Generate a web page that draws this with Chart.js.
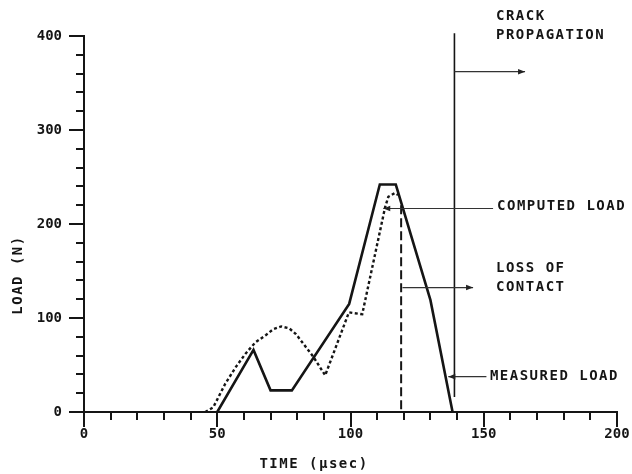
<!DOCTYPE html>
<html>
<head>
<meta charset="utf-8">
<script src="https://cdn.jsdelivr.net/npm/chart.js@4.4.1/dist/chart.umd.min.js"></script>
<style>
  html, body { margin: 0; padding: 0; background: #fff; }
  canvas { display: block; }
</style>
</head>
<body>
<canvas id="load" width="632" height="474"></canvas>
<script>
// Measured load (solid trace), time in microseconds, load in newtons
const measuredTime = [50, 63.6, 70, 78, 99.5, 111, 117, 130, 138.3];
const measuredLoad = [0, 66, 23, 23, 115, 242, 242, 119, 0];

// Computed load (dotted trace)
const computedTime = [45.5, 48.5, 53, 57, 60.6, 64.3, 68.3, 71, 74, 77, 79.5, 82.2, 86, 90.5, 99.4, 104.4, 113, 114.2, 116.6, 117.8];
const computedLoad = [0, 5, 30, 48, 62, 74, 82, 88, 91, 89, 83, 73, 59, 39, 106, 104, 218, 229, 233, 231];

// Loss of contact (dashed drop)
const contactTime = [119, 119];
const contactLoad = [220, 0];

// Crack propagation marker
const crackTime = [139, 139];
const crackLoad = [16, 403];

// Axis ranges and tick spacing
const timeRange = [0, 200];
const loadRange = [0, 400];
const timeMajor = 50, timeMinor = 10;
const loadMajor = 100, loadMinor = 20;

// Callout texts, anchored in (time, load)
const noteText = ['CRACK', 'PROPAGATION', 'COMPUTED LOAD', 'LOSS OF', 'CONTACT', 'MEASURED LOAD'];
const noteTime = [154.6, 154.6, 155, 154.6, 154.6, 152.3];
const noteLoad = [420.5, 401, 218.4, 153, 133, 37.6];

// Callout arrows: tail -> head, in (time, load)
const arrowTailTime = [139, 153.5, 119.5, 151];
const arrowTailLoad = [362, 216.5, 132.4, 37.6];
const arrowHeadTime = [165.5, 112.3, 146, 136.7];
const arrowHeadLoad = [362, 216.5, 132.4, 37.6];

const INK = '#151515';
const MONO = '"DejaVu Sans Mono", "Liberation Mono", monospace';

function pts(xs, ys) { return xs.map((x, i) => ({ x, y: ys[i] })); }

const paperMarks = {
  id: 'paperMarks',
  afterDraw(chart) {
    const { ctx, chartArea, scales: { x, y } } = chart;
    ctx.save();

    // tick marks: long at labelled values, short in between
    ctx.strokeStyle = INK;
    ctx.lineWidth = 2;
    ctx.lineCap = 'butt';
    for (let v = loadRange[0]; v <= loadRange[1]; v += loadMinor) {
      const py = Math.round(y.getPixelForValue(v));
      const len = v % loadMajor === 0 ? 15 : 8;
      ctx.beginPath();
      ctx.moveTo(chartArea.left - len, py);
      ctx.lineTo(chartArea.left, py);
      ctx.stroke();
    }
    for (let v = timeRange[0]; v <= timeRange[1]; v += timeMinor) {
      const px = Math.round(x.getPixelForValue(v));
      const len = v % timeMajor === 0 ? 15 : 8;
      ctx.beginPath();
      ctx.moveTo(px, chartArea.bottom);
      ctx.lineTo(px, chartArea.bottom + len);
      ctx.stroke();
    }

    // callout arrows
    ctx.strokeStyle = '#333';
    ctx.fillStyle = '#222';
    ctx.lineWidth = 1.2;
    for (let i = 0; i < arrowTailTime.length; i++) {
      const x1 = x.getPixelForValue(arrowTailTime[i]);
      const y1 = y.getPixelForValue(arrowTailLoad[i]);
      const x2 = x.getPixelForValue(arrowHeadTime[i]);
      const y2 = y.getPixelForValue(arrowHeadLoad[i]);
      const ang = Math.atan2(y2 - y1, x2 - x1);
      ctx.beginPath();
      ctx.moveTo(x1, y1);
      ctx.lineTo(x2, y2);
      ctx.stroke();
      ctx.beginPath();
      ctx.moveTo(x2, y2);
      ctx.lineTo(x2 - 7 * Math.cos(ang) + 2.8 * Math.sin(ang), y2 - 7 * Math.sin(ang) - 2.8 * Math.cos(ang));
      ctx.lineTo(x2 - 7 * Math.cos(ang) - 2.8 * Math.sin(ang), y2 - 7 * Math.sin(ang) + 2.8 * Math.cos(ang));
      ctx.closePath();
      ctx.fill();
    }

    // callout texts
    ctx.fillStyle = INK;
    ctx.font = 'bold 14px ' + MONO;
    ctx.letterSpacing = '1.5px';
    ctx.textAlign = 'left';
    ctx.textBaseline = 'middle';
    for (let i = 0; i < noteText.length; i++) {
      ctx.fillText(noteText[i], x.getPixelForValue(noteTime[i]), y.getPixelForValue(noteLoad[i]));
    }

    // axis titles
    ctx.textAlign = 'center';
    ctx.fillText('TIME (\u00b5sec)', chartArea.left + 230, chartArea.bottom + 52);
    ctx.save();
    ctx.translate(18, chartArea.top + 239);
    ctx.rotate(-Math.PI / 2);
    ctx.fillText('LOAD (N)', 0, 0);
    ctx.restore();

    ctx.restore();
  }
};

new Chart(document.getElementById('load'), {
  type: 'scatter',
  data: {
    datasets: [
      {
        label: 'Measured load',
        data: pts(measuredTime, measuredLoad),
        showLine: true, borderColor: INK, borderWidth: 2.6, pointRadius: 0,
        borderJoinStyle: 'miter', tension: 0
      },
      {
        label: 'Computed load',
        data: pts(computedTime, computedLoad),
        showLine: true, borderColor: INK, borderWidth: 2.4, pointRadius: 0,
        borderDash: [3, 2.5], tension: 0
      },
      {
        label: 'Loss of contact',
        data: pts(contactTime, contactLoad),
        showLine: true, borderColor: INK, borderWidth: 2, pointRadius: 0,
        borderDash: [9, 4]
      },
      {
        label: 'Crack propagation',
        data: pts(crackTime, crackLoad),
        showLine: true, borderColor: INK, borderWidth: 1.6, pointRadius: 0,
        clip: false
      }
    ]
  },
  options: {
    responsive: false,
    devicePixelRatio: 1,
    animation: false,
    events: [],
    layout: { padding: { top: 36, right: 15, left: 0, bottom: 0 } },
    plugins: { legend: { display: false }, tooltip: { enabled: false } },
    scales: {
      x: {
        type: 'linear', min: timeRange[0], max: timeRange[1],
        grid: { display: false, drawTicks: false },
        border: { display: true, color: INK, width: 2 },
        ticks: {
          stepSize: timeMajor, autoSkip: false, maxRotation: 0, padding: 14,
          color: INK, font: { family: MONO, size: 14, weight: 'bold' }
        },
        afterFit(scale) {
          scale.height = 62;
          scale.paddingLeft = 0;
          scale.paddingRight = 15;
        }
      },
      y: {
        type: 'linear', min: loadRange[0], max: loadRange[1],
        grid: { display: false, drawTicks: false },
        border: { display: true, color: INK, width: 2 },
        ticks: {
          stepSize: loadMajor, padding: 22,
          color: INK, font: { family: MONO, size: 14, weight: 'bold' }
        },
        afterFit(scale) { scale.width = 84; }
      }
    }
  },
  plugins: [paperMarks]
});
</script>
</body>
</html>
